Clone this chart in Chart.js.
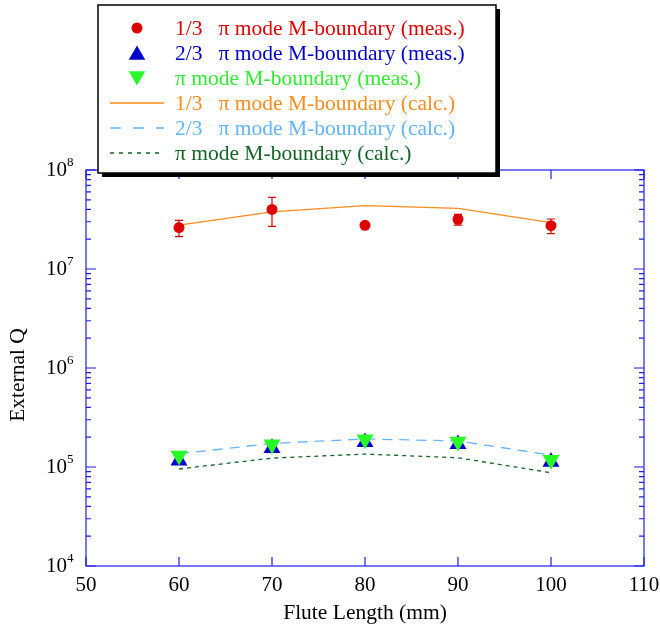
<!DOCTYPE html>
<html>
<head>
<meta charset="utf-8">
<script src="https://cdn.jsdelivr.net/npm/chart.js@4.4.1/dist/chart.umd.min.js"></script>
<style>
  body { margin: 0; background: #fff; }
  canvas { display: block; }
</style>
</head>
<body>
<canvas id="qChart" width="660" height="630"></canvas>
<script>
// data
const fluteLength = [60, 70, 80, 90, 100];
const q13Meas = [2.62e7, 4.0e7, 2.76e7, 3.18e7, 2.74e7];
const q13ErrLow = [2.12e7, 2.7e7, 2.6e7, 2.78e7, 2.28e7];
const q13ErrHigh = [3.1e7, 5.3e7, 2.95e7, 3.56e7, 3.2e7];
const q23Meas = [1.16e5, 1.55e5, 1.78e5, 1.70e5, 1.13e5];
const qPiMeas = [1.30e5, 1.69e5, 1.90e5, 1.80e5, 1.18e5];
const q13Calc = [2.78e7, 3.77e7, 4.36e7, 4.1e7, 2.94e7];
const q23Calc = [1.36e5, 1.73e5, 1.92e5, 1.83e5, 1.32e5];
const qPiCalc = [9.55e4, 1.23e5, 1.35e5, 1.24e5, 8.75e4];
const xTicks = [50, 60, 70, 80, 90, 100, 110];
const yExponents = [4, 5, 6, 7, 8];

const serif = "'Liberation Serif', 'Times New Roman', serif";
const axisBlue = "rgb(30, 30, 230)";
const red = "rgb(222, 0, 0)";
const blue = "rgb(0, 0, 204)";
const lime = "rgb(40, 250, 40)";
const orange = "rgb(255, 140, 30)";
const skyBlue = "rgb(100, 180, 255)";
const darkGreen = "rgb(20, 100, 40)";

function pts(ys) {
  return fluteLength.map((x, i) => ({ x: x, y: ys[i] }));
}

const legendRows = [
  { text: "1/3   \u03c0 mode M-boundary (meas.)", color: red, kind: "circle" },
  { text: "2/3   \u03c0 mode M-boundary (meas.)", color: blue, kind: "up" },
  { text: "\u03c0 mode M-boundary (meas.)", color: "rgb(50, 235, 50)", mark: lime, kind: "down" },
  { text: "1/3   \u03c0 mode M-boundary (calc.)", color: orange, kind: "line", dash: [] },
  { text: "2/3   \u03c0 mode M-boundary (calc.)", color: skyBlue, kind: "line", dash: [11, 12] },
  { text: "\u03c0 mode M-boundary (calc.)", color: darkGreen, kind: "line", dash: [4, 5] },
];

function triangle(ctx, x, y, r, down) {
  const s = down ? -1 : 1;
  ctx.beginPath();
  ctx.moveTo(x, y - s * r);
  ctx.lineTo(x + r * 0.866, y + s * r * 0.5);
  ctx.lineTo(x - r * 0.866, y + s * r * 0.5);
  ctx.closePath();
  ctx.fill();
}

const framePlugin = {
  id: "frame",
  afterDatasetsDraw(chart) {
    const ctx = chart.ctx;
    const a = chart.chartArea;
    const xs = chart.scales.x;
    const ys = chart.scales.y;
    ctx.save();

    // error bars
    ctx.strokeStyle = red;
    ctx.lineWidth = 1.2;
    fluteLength.forEach((x, i) => {
      const px = xs.getPixelForValue(x);
      const top = ys.getPixelForValue(q13ErrHigh[i]);
      const bot = ys.getPixelForValue(q13ErrLow[i]);
      ctx.beginPath();
      ctx.moveTo(px, top); ctx.lineTo(px, bot);
      ctx.moveTo(px - 4, top); ctx.lineTo(px + 4, top);
      ctx.moveTo(px - 4, bot); ctx.lineTo(px + 4, bot);
      ctx.stroke();
    });

    // frame and inward ticks
    ctx.strokeStyle = axisBlue;
    ctx.lineWidth = 1.2;
    ctx.strokeRect(a.left, a.top, a.right - a.left, a.bottom - a.top);
    ctx.beginPath();
    xTicks.forEach(v => {
      const px = xs.getPixelForValue(v);
      ctx.moveTo(px, a.bottom); ctx.lineTo(px, a.bottom - 9);
      ctx.moveTo(px, a.top); ctx.lineTo(px, a.top + 9);
    });
    for (let e = 4; e < 8; e++) {
      for (let m = 1; m <= 10; m++) {
        const py = ys.getPixelForValue(m * Math.pow(10, e));
        const len = (m === 1 || m === 10) ? 10 : 5;
        ctx.moveTo(a.left, py); ctx.lineTo(a.left + len, py);
        ctx.moveTo(a.right, py); ctx.lineTo(a.right - len, py);
      }
    }
    ctx.stroke();

    // y tick labels with exponents
    ctx.fillStyle = "#000";
    ctx.textBaseline = "middle";
    yExponents.forEach(e => {
      const py = ys.getPixelForValue(Math.pow(10, e));
      ctx.font = "21px " + serif;
      ctx.textAlign = "right";
      ctx.fillText("10", a.left - 19, py);
      ctx.font = "13px " + serif;
      ctx.textAlign = "left";
      ctx.fillText(String(e), a.left - 19, py - 7);
    });

    // x tick labels
    ctx.font = "21px " + serif;
    ctx.textAlign = "center";
    xTicks.forEach(v => {
      ctx.fillText(String(v), xs.getPixelForValue(v), 585);
    });

    // axis titles
    ctx.font = "21.5px " + serif;
    ctx.fillText("Flute Length (mm)", (a.left + a.right) / 2, 613);
    ctx.save();
    ctx.translate(18, 375);
    ctx.rotate(-Math.PI / 2);
    ctx.fillText("External Q", 0, 0);
    ctx.restore();

    // legend box with shadow
    const bx = 98, by = 5, bw = 398, bh = 168;
    ctx.fillStyle = "#000";
    ctx.fillRect(bx + 4, by + 4, bw, bh);
    ctx.fillStyle = "#fff";
    ctx.fillRect(bx, by, bw, bh);
    ctx.strokeStyle = "#000";
    ctx.lineWidth = 1.5;
    ctx.strokeRect(bx, by, bw, bh);

    ctx.font = "21.5px " + serif;
    ctx.textAlign = "left";
    legendRows.forEach((row, i) => {
      const y = 28 + i * 25;
      if (row.kind === "circle") {
        ctx.fillStyle = row.color;
        ctx.beginPath();
        ctx.arc(137, y, 5.5, 0, Math.PI * 2);
        ctx.fill();
      } else if (row.kind === "up" || row.kind === "down") {
        ctx.fillStyle = row.mark || row.color;
        triangle(ctx, 137, row.kind === "down" ? y - 2 : y + 2, 9.5, row.kind === "down");
      } else {
        ctx.strokeStyle = row.color;
        ctx.lineWidth = 1.3;
        ctx.setLineDash(row.dash);
        ctx.beginPath();
        ctx.moveTo(110, y); ctx.lineTo(164, y);
        ctx.stroke();
        ctx.setLineDash([]);
      }
      ctx.fillStyle = row.color;
      ctx.fillText(row.text, 175, y + 1);
    });

    ctx.restore();
  }
};

new Chart(document.getElementById("qChart"), {
  type: "scatter",
  data: {
    datasets: [
      {
        label: "1/3 pi mode M-boundary (calc.)",
        data: pts(q13Calc),
        showLine: true,
        borderColor: orange,
        borderWidth: 1.3,
        pointRadius: 0,
        order: 5,
      },
      {
        label: "2/3 pi mode M-boundary (calc.)",
        data: pts(q23Calc),
        showLine: true,
        borderColor: skyBlue,
        borderWidth: 1.3,
        borderDash: [10, 7],
        pointRadius: 0,
        order: 5,
      },
      {
        label: "pi mode M-boundary (calc.)",
        data: pts(qPiCalc),
        showLine: true,
        borderColor: darkGreen,
        borderWidth: 1.3,
        borderDash: [4, 4],
        pointRadius: 0,
        order: 5,
      },
      {
        label: "2/3 pi mode M-boundary (meas.)",
        data: pts(q23Meas),
        pointStyle: "triangle",
        pointRadius: 9.8,
        backgroundColor: blue,
        borderColor: blue,
        borderWidth: 0,
        order: 3,
      },
      {
        label: "pi mode M-boundary (meas.)",
        data: pts(qPiMeas),
        pointStyle: "triangle",
        rotation: 180,
        pointRadius: 9.8,
        backgroundColor: lime,
        borderColor: lime,
        borderWidth: 0,
        order: 2,
      },
      {
        label: "1/3 pi mode M-boundary (meas.)",
        data: pts(q13Meas),
        pointStyle: "circle",
        pointRadius: 5.5,
        backgroundColor: red,
        borderColor: red,
        borderWidth: 0,
        order: 1,
      },
    ],
  },
  options: {
    responsive: false,
    animation: false,
    layout: { padding: { top: 170, right: 16, left: 0, bottom: 0 } },
    plugins: {
      legend: { display: false },
      tooltip: { enabled: false },
    },
    scales: {
      x: {
        type: "linear",
        min: 50,
        max: 110,
        ticks: { display: false, stepSize: 10 },
        grid: { display: false },
        border: { display: false },
        afterFit: s => { s.height = 64; },
      },
      y: {
        type: "logarithmic",
        min: 1e4,
        max: 1e8,
        ticks: { display: false },
        grid: { display: false },
        border: { display: false },
        afterFit: s => { s.width = 86; },
      },
    },
  },
  plugins: [framePlugin],
});
</script>
</body>
</html>
